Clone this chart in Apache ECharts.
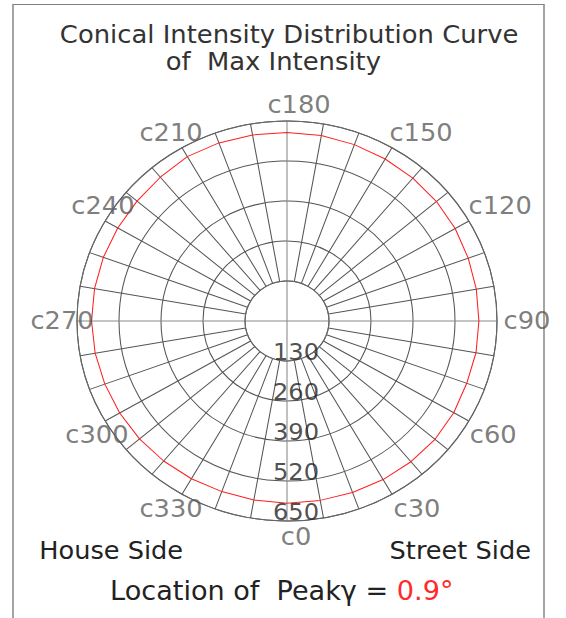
<!DOCTYPE html>
<html>
<head>
<meta charset="utf-8">
<script src="https://cdn.jsdelivr.net/npm/echarts@6/dist/echarts.min.js"></script>
<style>
html,body{margin:0;padding:0;background:#fff;overflow:hidden;}
#frame{position:absolute;left:12px;top:4px;width:529px;height:640px;border-left:2px solid #a4a4a4;border-right:2px solid #a4a4a4;border-top:1px solid #808080;}
#chart{position:absolute;left:0;top:0;width:566px;height:618px;transform:scaleX(1.05);transform-origin:287px 0;}
</style>
</head>
<body>
<div id="frame"></div>
<div id="chart"></div>
<script>
// ---- data ----
const titleLines = ['Conical Intensity Distribution Curve', 'of  Max Intensity'];
const angles = [0,10,20,30,40,50,60,70,80,90,100,110,120,130,140,150,160,170,180,190,200,210,220,230,240,250,260,270,280,290,300,310,320,330,340,350];
const intensity = [592,592,593,595,597,598,596,592,594,594,595,597,601,604,606,608,610,612,613,614,616,617,610,606,605,605,605,605,603,600,598,596,594,592,590,591];
const ringTicks = [130,260,390,520,650];
const angleTicks = [0,30,60,90,120,150,180,210,240,270,300,330];
const sideLabels = ['House Side', 'Street Side'];
const peakText = 'Location of  Peak\u03b3 = ';
const peakValue = '0.9\u00b0';

// ---- layout / style ----
const FONT = 'DejaVu Sans';
const SX = 1.05;
// small per-label nudges (screen px) for the angle labels
const labelNudge = {0:[0,-3],30:[6,-2],60:[-2,4],90:[1,0],120:[5,-6],150:[10,1],180:[3,3],210:[-10,1],240:[6,-6],270:[-4,0],300:[0,4],330:[-10,-2]};

const chart = echarts.init(document.getElementById('chart'), null, {renderer: 'svg'});

const lineData = angles.map((a, i) => [intensity[i], a]);
lineData.push([intensity[0], 360]);

const LABEL_OUT = 19, LABEL_SHIFT = 8.6;
const angleLabelData = angleTicks.map(a => {
  const t = a * Math.PI / 180;
  const n = labelNudge[a] || [0, 0];
  return {
    value: [650, a],
    label: {offset: [LABEL_OUT * Math.sin(t) + LABEL_SHIFT + n[0] / SX, LABEL_OUT * Math.cos(t) + n[1]]}
  };
});

const crossColors = ['#8a8a8a','#555','#555','#555','#555','#555','#555','#555','#555'];

const option = {
  animation: false,
  polar: [
    {center: [287, 321], radius: [40, 200]},
    {center: [287, 321], radius: [0, 40]}
  ],
  angleAxis: [
    {
      polarIndex: 0, type: 'value', min: 0, max: 360, interval: 10,
      startAngle: 270, clockwise: false,
      axisLine: {show: true, lineStyle: {color: '#666', width: 1}},
      axisTick: {show: false}, axisLabel: {show: false},
      splitLine: {show: true, lineStyle: {color: crossColors, width: 1}}
    },
    {
      polarIndex: 1, type: 'value', min: 0, max: 360, interval: 90,
      startAngle: 270, clockwise: false,
      axisLine: {show: false}, axisTick: {show: false}, axisLabel: {show: false},
      splitLine: {show: true, lineStyle: {color: '#8a8a8a', width: 1}}
    }
  ],
  radiusAxis: [
    {
      polarIndex: 0, type: 'value', min: 130, max: 650, interval: 130,
      axisLine: {show: false}, axisTick: {show: false}, axisLabel: {show: false},
      splitLine: {show: true, lineStyle: {color: '#555', width: 1}}
    },
    {
      polarIndex: 1, type: 'value', min: 0, max: 1, show: false,
      axisLine: {show: false}, axisTick: {show: false}, axisLabel: {show: false},
      splitLine: {show: false}
    }
  ],
  series: [
    {
      type: 'line', coordinateSystem: 'polar', polarIndex: 0,
      data: lineData, symbol: 'none', smooth: false, silent: true,
      lineStyle: {color: '#ff1f1f', width: 1}, z: 3
    },
    {
      type: 'scatter', coordinateSystem: 'polar', polarIndex: 0,
      data: angleLabelData, symbolSize: 1, silent: true,
      itemStyle: {color: 'rgba(0,0,0,0)'},
      label: {show: true, position: 'inside', formatter: p => 'c' + p.value[1],
        color: '#5c5c5c', fontFamily: FONT, fontSize: 24.5},
      z: 4
    },
    {
      type: 'scatter', coordinateSystem: 'polar', polarIndex: 0,
      data: ringTicks.map(v => [v, 0]), symbolSize: 1, silent: true,
      itemStyle: {color: 'rgba(0,0,0,0)'},
      label: {show: true, position: 'inside', formatter: p => String(p.value[0]),
        offset: [8.6, -9], color: '#222', fontFamily: FONT, fontSize: 23},
      z: 4
    }
  ],
  graphic: [
    {type: 'text', x: 289, y: 35, silent: true,
     style: {text: titleLines[0], fill: '#333', font: '24.6px "DejaVu Sans"', textAlign: 'center', textVerticalAlign: 'middle'}},
    {type: 'text', x: 274, y: 62, silent: true,
     style: {text: titleLines[1], fill: '#333', font: '24.6px "DejaVu Sans"', textAlign: 'center', textVerticalAlign: 'middle'}},
    {type: 'text', x: 119.5, y: 551, silent: true,
     style: {text: sideLabels[0], fill: '#222', font: '24.4px "DejaVu Sans"', textAlign: 'center', textVerticalAlign: 'middle'}},
    {type: 'text', x: 452, y: 551, silent: true,
     style: {text: sideLabels[1], fill: '#222', font: '24.4px "DejaVu Sans"', textAlign: 'center', textVerticalAlign: 'middle'}},
    {type: 'text', x: 282, y: 591, silent: true,
     style: {text: '{a|' + peakText + '}{b|' + peakValue + '}', textAlign: 'center', textVerticalAlign: 'middle',
       rich: {a: {fill: '#222', fontFamily: FONT, fontSize: 25.8}, b: {fill: '#ff2a2a', fontFamily: FONT, fontSize: 25.8}}}}
  ]
};
chart.setOption(option);
</script>
</body>
</html>
